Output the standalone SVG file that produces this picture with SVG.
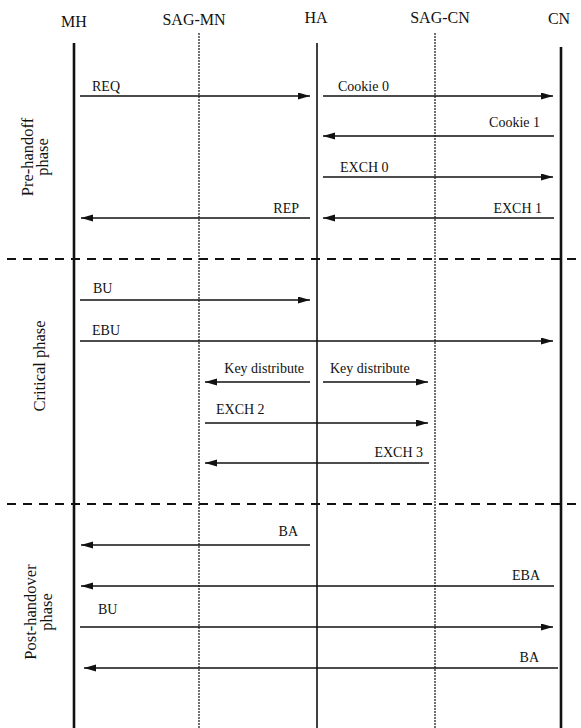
<svg xmlns="http://www.w3.org/2000/svg" width="581" height="728" viewBox="0 0 581 728">
<style>
.hdr{font-family:"Liberation Serif","Times New Roman",serif;font-size:16px;fill:#111;text-anchor:middle}
.lbl{font-family:"Liberation Serif","Times New Roman",serif;font-size:14px;fill:#111}
.end{text-anchor:end}
.ph{font-family:"Liberation Serif","Times New Roman",serif;font-size:16.5px;fill:#111;text-anchor:middle}
.thick{stroke:#111;stroke-width:2.6}
.mid{stroke:#111;stroke-width:1.6}
.dot{stroke:#111;stroke-width:1.2;stroke-dasharray:2 1}
.sep{stroke:#111;stroke-width:2;stroke-dasharray:9 7}
.msg{stroke:#111;stroke-width:1.4;fill:none;marker-end:url(#ah)}
</style>
<defs>
<marker id="ah" markerUnits="userSpaceOnUse" markerWidth="13" markerHeight="8" refX="12" refY="3.5" orient="auto">
<path d="M0,0 L12,3.5 L0,7 Z" fill="#111"/>
</marker>
</defs>
<rect width="581" height="728" fill="#fff"/>
<g id="MH"><text class="hdr" x="74" y="27">MH</text><line class="thick" x1="74" y1="43" x2="74" y2="728"/></g>
<g id="SAG-MN"><text class="hdr" x="194" y="25">SAG-MN</text><line class="dot" x1="199" y1="33" x2="199" y2="728"/></g>
<g id="HA"><text class="hdr" x="316" y="23">HA</text><line class="mid" x1="317" y1="43" x2="317" y2="728"/></g>
<g id="SAG-CN"><text class="hdr" x="440" y="23">SAG-CN</text><line class="dot" x1="435" y1="33" x2="435" y2="728"/></g>
<g id="CN"><text class="hdr" x="559" y="24">CN</text><line class="thick" x1="561" y1="47" x2="561" y2="728"/></g>
<g id="phases">
<text class="ph" transform="translate(33,157) rotate(-90)">Pre-handoff</text>
<text class="ph" transform="translate(48,157) rotate(-90)">phase</text>
<text class="ph" transform="translate(45,366) rotate(-90)">Critical phase</text>
<text class="ph" transform="translate(36,612) rotate(-90)">Post-handover</text>
<text class="ph" transform="translate(52,612) rotate(-90)">phase</text>
<line class="sep" x1="7" y1="259" x2="581" y2="259"/>
<line class="sep" x1="7" y1="504" x2="581" y2="504"/>
</g>
<g id="connectors">
<line class="msg" x1="80" y1="96" x2="310" y2="96"/>
<line class="msg" x1="323" y1="96" x2="553" y2="96"/>
<line class="msg" x1="554" y1="136" x2="323" y2="136"/>
<line class="msg" x1="323" y1="177" x2="553" y2="177"/>
<line class="msg" x1="310" y1="218" x2="81" y2="218"/>
<line class="msg" x1="554" y1="218" x2="323" y2="218"/>
<line class="msg" x1="80" y1="300" x2="310" y2="300"/>
<line class="msg" x1="80" y1="341" x2="553" y2="341"/>
<line class="msg" x1="310" y1="382" x2="205" y2="382"/>
<line class="msg" x1="323" y1="382" x2="428" y2="382"/>
<line class="msg" x1="205" y1="423" x2="428" y2="423"/>
<line class="msg" x1="429" y1="463" x2="205" y2="463"/>
<line class="msg" x1="310" y1="545" x2="81" y2="545"/>
<line class="msg" x1="554" y1="586" x2="81" y2="586"/>
<line class="msg" x1="80" y1="627" x2="553" y2="627"/>
<line class="msg" x1="558" y1="668" x2="84" y2="668"/>
</g>
<g id="labels">
<text class="lbl" x="92" y="91">REQ</text>
<text class="lbl" x="338" y="91">Cookie 0</text>
<text class="lbl end" x="540" y="127">Cookie 1</text>
<text class="lbl" x="340" y="172">EXCH 0</text>
<text class="lbl end" x="299" y="213">REP</text>
<text class="lbl end" x="542" y="213">EXCH 1</text>
<text class="lbl" x="93" y="293">BU</text>
<text class="lbl" x="92" y="335">EBU</text>
<text class="lbl end" x="304" y="373">Key distribute</text>
<text class="lbl" x="330" y="373">Key distribute</text>
<text class="lbl" x="216" y="414">EXCH 2</text>
<text class="lbl end" x="423" y="457">EXCH 3</text>
<text class="lbl end" x="298" y="536">BA</text>
<text class="lbl end" x="540" y="580">EBA</text>
<text class="lbl" x="98" y="614">BU</text>
<text class="lbl end" x="539" y="662">BA</text>
</g>
</svg>
